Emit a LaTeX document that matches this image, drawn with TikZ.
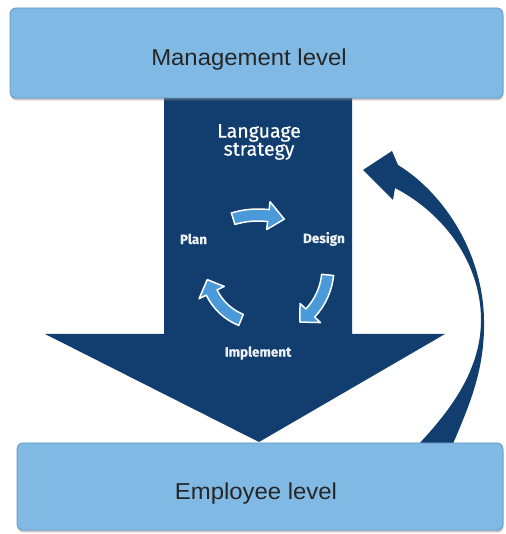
\documentclass[tikz,border=0pt]{standalone}
\usepackage{fontspec}
\setmainfont{Liberation Sans}
\newfontfamily\labelfont[FakeBold=0.5]{Fira Sans}
\usetikzlibrary{shadows}

\definecolor{navy}{RGB}{17,62,110}
\definecolor{levelblue}{RGB}{128,185,228}
\definecolor{leveledge}{RGB}{98,150,200}
\definecolor{cyclefill}{RGB}{74,154,218}

\tikzset{
  level/.style={fill=levelblue, draw=leveledge, line width=0.8pt, rounded corners=6pt,
    drop shadow={shadow xshift=0.5pt, shadow yshift=-2.5pt, opacity=0.45}},
  leveltext/.style={font=\fontsize{23}{26}\selectfont, text=black!85, xscale=1.04},
  strategytext/.style={font=\labelfont\fontsize{19.5}{22}\selectfont, text=white, align=center},
  phasetext/.style={font=\labelfont\bfseries\fontsize{13.5}{15}\selectfont, text=white!92!navy},
  cyclearrow/.style={fill=cyclefill, draw=white, line width=1.5pt, line join=round},
}

% block arrow bent along a circle: centre, radius, tail angle, head base angle, tip angle
\newcommand{\bentarrow}[6][]{%
  \path[cyclearrow, shift={(#2)}, #1]
    (#4:#3-6) arc[start angle=#4, end angle=#5, radius=#3-6]
    -- (#5:#3-14) -- (#6:#3) -- (#5:#3+14) -- (#5:#3+6)
    arc[start angle=#5, end angle=#4, radius=#3+6] -- cycle;}

\begin{document}
\begin{tikzpicture}[x=1pt, y=1pt]
\useasboundingbox (0,0) rectangle (505,534);

% broad downward arrow from management to employees
\fill[navy] (164,440) -- (352,440) -- (352,200) -- (445,200) -- (259,92)
  -- (45,200) -- (164,200) -- cycle;

% feedback arc from employees back up to the strategy
\fill[navy] (452,82) -- (452,88)
  .. controls (470,130) and (485,165) .. (484,214)
  .. controls (483,280) and (445,340) .. (398,369)
  -- (392,383) -- (363,364) -- (393,334) -- (395,346)
  .. controls (445,320) and (481,270) .. (481,214)
  .. controls (481,160) and (445,118) .. (417,88) -- (414,82) -- cycle;

% the two levels
\node[level, minimum width=493pt, minimum height=90pt] (mgmt) at (256.5,481) {};
\node[level, minimum width=486pt, minimum height=87pt] (empl) at (260,47.5) {};
\node[leveltext] (mgmtlabel) at (249,474) {Management level};
\node[leveltext] (empllabel) at (256,40) {Employee level};

% strategy cycle
\node[strategytext] (strategy) at (259,392) {Language\\[-4pt]strategy};
\node[phasetext] (plan) at (193.5,295) {Plan};
\node[phasetext] (design) at (324,295) {Design};
\node[phasetext] (implement) at (258,181) {Implement};

\coordinate (hub) at (262,266);
\coordinate (tophub) at (258,234);
\bentarrow{tophub}{85}{107}{83}{72}
\bentarrow{hub}{66}{-6}{-43}{-55}
\bentarrow{hub}{56}{248}{206}{192}
\end{tikzpicture}
\end{document}
